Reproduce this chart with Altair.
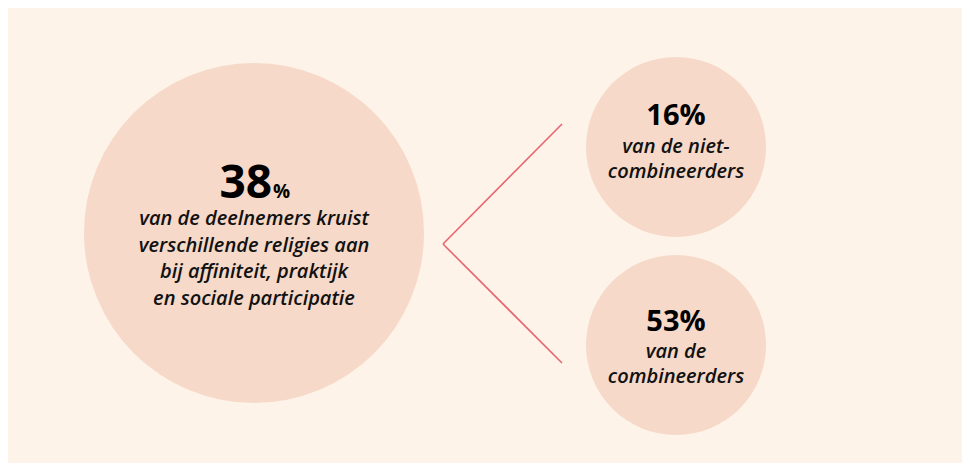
import altair as alt
import pandas as pd

# ---- content ----
groups = ["deelnemers", "niet-combineerders", "combineerders"]
percentages = [38, 16, 53]
descriptions = [
    ["van de deelnemers kruist", "verschillende religies aan", "bij affiniteit, praktijk", "en sociale participatie"],
    ["van de niet-", "combineerders"],
    ["van de", "combineerders"],
]

# ---- layout (pixel canvas) ----
W, H = 954, 455
circle_cx = [246, 668, 668]
circle_cy = [225, 139, 337]
circle_r = [170, 90, 90]
pct_baseline = [190, 117, 323]
desc_first_baseline = [217, 145, 350]
desc_spacing = [26.6, 25, 25]
connector_x = [554, 435, 554]
connector_y = [116, 236, 355]

BG = "#fef3e8"
CIRCLE = "#f6d9c8"
LINE = "#e8646e"
FONT = "Open Sans"

xs = alt.Scale(domain=[0, W], range=[0, W], nice=False, zero=False)
ys = alt.Scale(domain=[0, H], range=[0, H], nice=False, zero=False)

circles = pd.DataFrame({
    "group": groups,
    "cx": circle_cx,
    "cy": circle_cy,
    "area": [(2 * r) ** 2 for r in circle_r],
})

circle_layer = alt.Chart(circles).mark_circle(color=CIRCLE, opacity=1).encode(
    x=alt.X("cx:Q", scale=xs, axis=None),
    y=alt.Y("cy:Q", scale=ys, axis=None),
    size=alt.Size("area:Q", scale=None, legend=None),
)

seg = pd.DataFrame({
    "x": connector_x[:2] + connector_x[1:],
    "y": connector_y[:2] + connector_y[1:],
    "seg": ["a", "a", "b", "b"],
    "o": [0, 1, 0, 1],
})
line_layer = alt.Chart(seg).mark_line(color=LINE, strokeWidth=1.6).encode(
    x=alt.X("x:Q", scale=xs, axis=None),
    y=alt.Y("y:Q", scale=ys, axis=None),
    detail="seg:N",
    order="o:Q",
)

big = pd.DataFrame({
    "num": [str(percentages[0])],
    "pct": ["%"],
    "x": [circle_cx[0] + 18],
    "y": [pct_baseline[0]],
})
big_num = alt.Chart(big).mark_text(
    font=FONT, fontWeight="bold", fontSize=46, align="right", baseline="alphabetic", color="#000000"
).encode(x=alt.X("x:Q", scale=xs, axis=None), y=alt.Y("y:Q", scale=ys, axis=None), text="num:N")
big_pct = alt.Chart(big).mark_text(
    font=FONT, fontWeight="bold", fontSize=19, align="left", baseline="alphabetic", dx=1, color="#000000"
).encode(x=alt.X("x:Q", scale=xs, axis=None), y=alt.Y("y:Q", scale=ys, axis=None), text="pct:N")

small = pd.DataFrame({
    "label": [f"{p}%" for p in percentages[1:]],
    "x": circle_cx[1:],
    "y": pct_baseline[1:],
})
small_num = alt.Chart(small).mark_text(
    font=FONT, fontWeight="bold", fontSize=29, align="center", baseline="alphabetic", color="#000000"
).encode(x=alt.X("x:Q", scale=xs, axis=None), y=alt.Y("y:Q", scale=ys, axis=None), text="label:N")

rows = []
for i, lines in enumerate(descriptions):
    for j, t in enumerate(lines):
        rows.append({"text": t, "x": circle_cx[i], "y": desc_first_baseline[i] + j * desc_spacing[i]})
desc = pd.DataFrame(rows)
desc_layer = alt.Chart(desc).mark_text(
    font=FONT, fontStyle="italic", fontWeight=600, fontSize=20, align="center", baseline="alphabetic", color="#111111"
).encode(x=alt.X("x:Q", scale=xs, axis=None), y=alt.Y("y:Q", scale=ys, axis=None), text="text:N")

chart = alt.layer(circle_layer, line_layer, big_num, big_pct, small_num, desc_layer).properties(
    width=W, height=H,
    autosize=alt.AutoSizeParams(type="none"),
    padding=0,
    background=BG,
).configure_view(stroke=None)

chart.save("out.html", embed_options={"renderer": "svg", "actions": False})
